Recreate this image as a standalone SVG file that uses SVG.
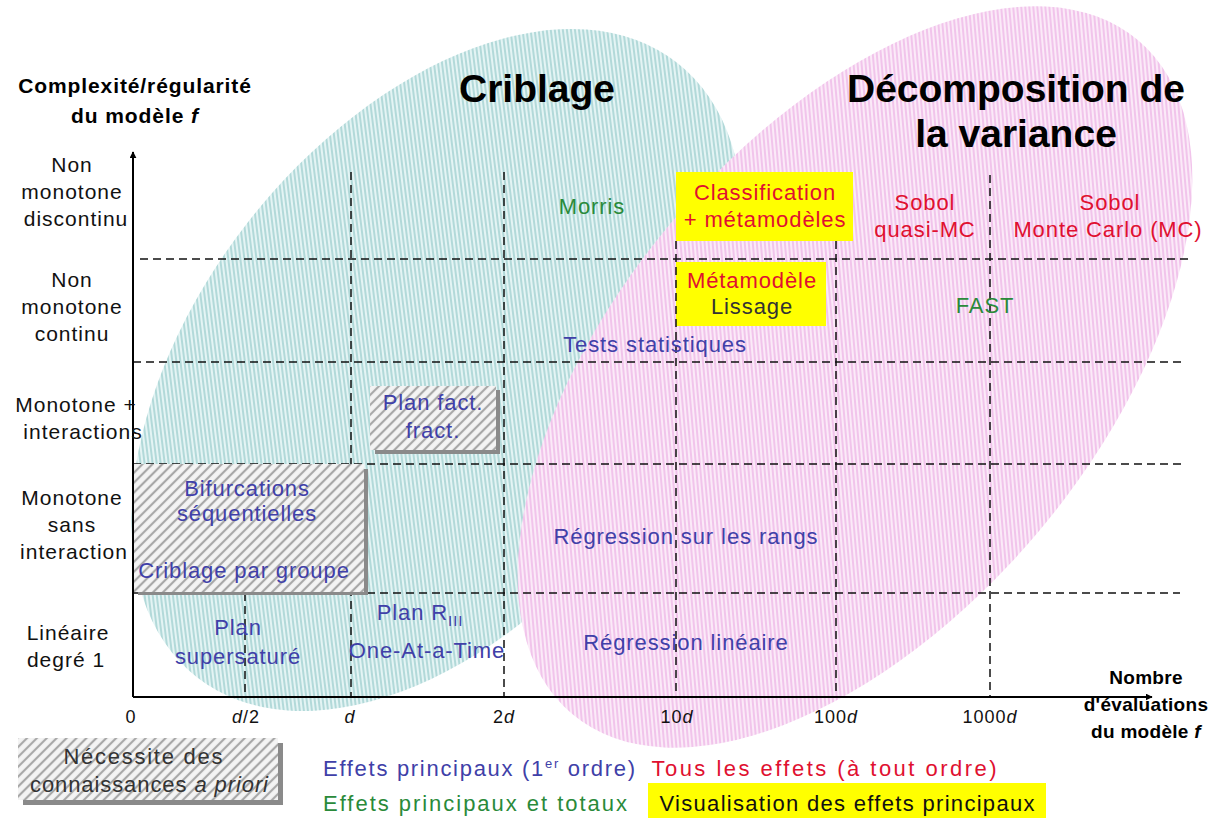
<svg xmlns="http://www.w3.org/2000/svg" width="1216" height="818" viewBox="0 0 1216 818">
<defs>
<pattern id="hc" width="4" height="4" patternUnits="userSpaceOnUse" patternTransform="rotate(45)"><rect width="4" height="4" fill="#e4f4f4"/><line x1="1" y1="0" x2="1" y2="4" stroke="#a6d3d3" stroke-width="1.6"/></pattern>
<pattern id="hp" width="4" height="4" patternUnits="userSpaceOnUse" patternTransform="rotate(45)"><rect width="4" height="4" fill="#fbeaf8"/><line x1="1" y1="0" x2="1" y2="4" stroke="#efbbe8" stroke-width="1.6"/></pattern>
<pattern id="hg" width="7" height="7" patternUnits="userSpaceOnUse" patternTransform="rotate(45)"><rect width="7" height="7" fill="#f4f4f4"/><line x1="2" y1="0" x2="2" y2="7" stroke="#a8a8a8" stroke-width="2.2"/></pattern>
<marker id="arr" viewBox="0 0 10 10" refX="9" refY="5" markerWidth="7" markerHeight="7" orient="auto" markerUnits="userSpaceOnUse"><path d="M0,0 L10,5 L0,10 z" fill="#000"/></marker>
</defs>
<style>
text{font-family:"Liberation Sans","DejaVu Sans",sans-serif;text-anchor:middle}
.t{font-size:39px;font-weight:bold;fill:#000}
.ax{font-size:21px;font-weight:bold;fill:#000;letter-spacing:0.9px}
.axr{font-size:19px;font-weight:bold;fill:#000;letter-spacing:0.3px}
.row{font-size:21px;fill:#111;letter-spacing:1px}
.tick{font-size:18px;fill:#111;letter-spacing:1px}
.c{font-size:22px;letter-spacing:0.9px}
.b{fill:#4040a8}
.r{fill:#e01030}
.g{fill:#2a8a3a}
.k{fill:#333}
.lg{font-size:22px}
.dash{stroke:#111;stroke-width:1.5;stroke-dasharray:8 5;fill:none}
.yel{fill:#ffff00}
.sh{fill:#8a8a8a}
</style>
<rect width="1216" height="818" fill="#fff"/>
<g id="zones">
<ellipse id="criblage-zone" cx="437" cy="370" rx="390" ry="240" transform="rotate(-52 437 370)" fill="url(#hc)"/>
<ellipse id="variance-zone" cx="855" cy="377" rx="440" ry="240" transform="rotate(-50 855 377)" fill="url(#hp)"/>
</g>
<g id="highlights">
<rect x="676" y="172" width="177" height="69" class="yel"/>
<rect x="676" y="262" width="150" height="64" class="yel"/>
</g>
<g id="grid">
<line class="dash" x1="140" y1="259" x2="1192" y2="259"/>
<line class="dash" x1="133" y1="362" x2="1186" y2="362"/>
<line class="dash" x1="133" y1="464" x2="1186" y2="464"/>
<line class="dash" x1="133" y1="593" x2="1180" y2="593"/>
<line class="dash" x1="245" y1="593" x2="245" y2="697"/>
<line class="dash" x1="351" y1="172" x2="351" y2="697"/>
<line class="dash" x1="504" y1="172" x2="504" y2="697"/>
<line class="dash" x1="676" y1="241" x2="676" y2="697"/>
<line class="dash" x1="836" y1="241" x2="836" y2="697"/>
<line class="dash" x1="990" y1="175" x2="990" y2="697"/>
</g>
<g id="box-plan-fact">
<rect x="375" y="390" width="125" height="64" class="sh"/>
<rect x="370" y="386" width="126" height="64" fill="url(#hg)"/>
<text class="c b" x="433" y="410">Plan fact.</text>
<text class="c b" x="433" y="438">fract.</text>
</g>
<g id="box-bifurcations">
<rect x="138" y="469" width="230" height="126" class="sh"/>
<rect x="133" y="464" width="231" height="128" fill="url(#hg)"/>
<text class="c b" x="247" y="496">Bifurcations</text>
<text class="c b" x="247" y="521">séquentielles</text>
<text class="c b" x="244" y="578">Criblage par groupe</text>
</g>
<g id="axes">
<line x1="133" y1="697" x2="133" y2="152" stroke="#000" stroke-width="2" marker-end="url(#arr)"/>
<line x1="133" y1="697" x2="1152" y2="697" stroke="#000" stroke-width="2" marker-end="url(#arr)"/>
</g>
<g id="titles">
<text class="t" x="537" y="102">Criblage</text>
<text class="t" x="1016" y="102">Décomposition de</text>
<text class="t" x="1016" y="147">la variance</text>
<text class="ax" x="135" y="93">Complexité/régularité</text>
<text class="ax" x="135" y="123">du modèle <tspan font-style="italic">f</tspan></text>
<text class="axr" x="1146" y="684">Nombre</text>
<text class="axr" x="1146" y="711">d'évaluations</text>
<text class="axr" x="1146" y="738">du modèle <tspan font-style="italic">f</tspan></text>
</g>
<g id="row-labels">
<text class="row" x="72" y="172">Non</text>
<text class="row" x="72" y="199">monotone</text>
<text class="row" x="76" y="226">discontinu</text>
<text class="row" x="72" y="287">Non</text>
<text class="row" x="72" y="314">monotone</text>
<text class="row" x="72" y="341">continu</text>
<text class="row" x="76" y="412">Monotone +</text>
<text class="row" x="83" y="439">interactions</text>
<text class="row" x="72" y="505">Monotone</text>
<text class="row" x="72" y="532">sans</text>
<text class="row" x="74" y="559">interaction</text>
<text class="row" x="68" y="640">Linéaire</text>
<text class="row" x="66" y="667">degré 1</text>
</g>
<g id="ticks">
<text class="tick" x="131" y="723">0</text>
<text class="tick" x="246" y="723"><tspan font-style="italic">d</tspan>/2</text>
<text class="tick" x="350" y="723" font-style="italic">d</text>
<text class="tick" x="504" y="723">2<tspan font-style="italic">d</tspan></text>
<text class="tick" x="677" y="723">10<tspan font-style="italic">d</tspan></text>
<text class="tick" x="836" y="723">100<tspan font-style="italic">d</tspan></text>
<text class="tick" x="990" y="723">1000<tspan font-style="italic">d</tspan></text>
</g>
<g id="methods">
<text class="c g" x="592" y="214">Morris</text>
<text class="c r" x="765" y="200">Classification</text>
<text class="c r" x="765" y="227">+ métamodèles</text>
<text class="c r" x="925" y="210">Sobol</text>
<text class="c r" x="925" y="237">quasi-MC</text>
<text class="c r" x="1110" y="210">Sobol</text>
<text class="c r" x="1108" y="237">Monte Carlo (MC)</text>
<text class="c r" x="752" y="288">Métamodèle</text>
<text class="c k" x="752" y="314">Lissage</text>
<text class="c g" x="985" y="313">FAST</text>
<text class="c b" x="655" y="352">Tests statistiques</text>
<text class="c b" x="686" y="544">Régression sur les rangs</text>
<text class="c b" x="238" y="635">Plan</text>
<text class="c b" x="238" y="664">supersaturé</text>
<text class="c b" x="420" y="620">Plan R<tspan font-size="15" dy="6">III</tspan></text>
<text class="c b" x="427" y="658">One-At-a-Time</text>
<text class="c b" x="686" y="650">Régression linéaire</text>
</g>
<g id="legend">
<rect x="23" y="743" width="260" height="62" class="sh"/>
<rect x="18" y="738" width="260" height="62" fill="url(#hg)"/>
<text class="lg k" x="143" y="764" fill="#222" textLength="159">Nécessite des</text>
<text class="lg k" x="149" y="792" fill="#222" textLength="238">connaissances <tspan font-style="italic">a priori</tspan></text>
<text class="lg b" x="479" y="776" textLength="312">Effets principaux (1<tspan font-size="13" dy="-8">er</tspan><tspan dy="8"> ordre)</tspan></text>
<text class="lg r" x="824" y="776" textLength="345">Tous les effets (à tout ordre)</text>
<text class="lg g" x="475" y="811" textLength="304">Effets principaux et totaux</text>
<rect x="648" y="783" width="398" height="35" class="yel"/>
<text class="lg" x="847" y="811" fill="#111" textLength="375">Visualisation des effets principaux</text>
</g>
</svg>
